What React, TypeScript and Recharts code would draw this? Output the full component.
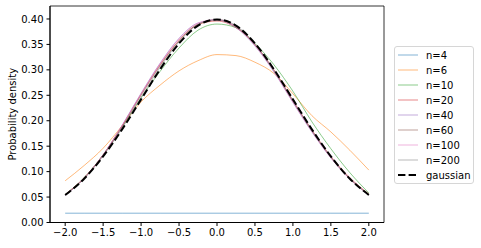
import React from 'react';
import { LineChart, Line, XAxis, YAxis, ReferenceArea } from 'recharts';

const xs = [-2, -1.75, -1.5, -1.25, -1, -0.75, -0.5, -0.25, 0, 0.25, 0.5, 0.75, 1, 1.25, 1.5, 1.75, 2];

const n4 = [0.0183, 0.0183, 0.0183, 0.0183, 0.0183, 0.0183, 0.0183, 0.0183, 0.0183, 0.0183, 0.0183, 0.0183, 0.0183, 0.0183, 0.0183, 0.0183, 0.0183];
const n6 = [0.082, 0.112, 0.146, 0.19, 0.237, 0.27, 0.298, 0.318, 0.33, 0.328, 0.315, 0.293, 0.253, 0.21, 0.178, 0.142, 0.103];
const n10 = [0.055, 0.088, 0.133, 0.188, 0.245, 0.297, 0.343, 0.378, 0.39, 0.383, 0.352, 0.31, 0.258, 0.198, 0.145, 0.098, 0.058];
const n20 = [0.055, 0.088, 0.133, 0.19, 0.252, 0.31, 0.358, 0.389, 0.396, 0.383, 0.35, 0.3, 0.24, 0.182, 0.13, 0.088, 0.056];
const n40 = [0.053, 0.087, 0.133, 0.191, 0.254, 0.313, 0.362, 0.392, 0.398, 0.383, 0.347, 0.296, 0.236, 0.178, 0.127, 0.086, 0.054];
const n60 = [0.054, 0.087, 0.132, 0.188, 0.25, 0.308, 0.357, 0.39, 0.398, 0.385, 0.349, 0.298, 0.238, 0.18, 0.128, 0.086, 0.055];
const n100 = [0.054, 0.087, 0.133, 0.19, 0.253, 0.312, 0.361, 0.392, 0.399, 0.385, 0.348, 0.297, 0.237, 0.179, 0.127, 0.085, 0.054];
const n200 = [0.054, 0.086, 0.131, 0.185, 0.246, 0.305, 0.355, 0.389, 0.399, 0.387, 0.351, 0.299, 0.24, 0.181, 0.129, 0.086, 0.054];
const gaussian = [0.054, 0.086, 0.13, 0.183, 0.242, 0.301, 0.352, 0.387, 0.399, 0.387, 0.352, 0.301, 0.242, 0.183, 0.13, 0.086, 0.054];

const xTicks = [-2, -1.5, -1, -0.5, 0, 0.5, 1, 1.5, 2];
const yTicks = [0, 0.05, 0.1, 0.15, 0.2, 0.25, 0.3, 0.35, 0.4];

const seriesNames = ['n=4', 'n=6', 'n=10', 'n=20', 'n=40', 'n=60', 'n=100', 'n=200'];
const seriesValues = [n4, n6, n10, n20, n40, n60, n100, n200];
const seriesColors = ['#1f77b4', '#ff7f0e', '#2ca02c', '#d62728', '#9467bd', '#8c564b', '#e377c2', '#7f7f7f'];

const data = xs.map((x, i) => {
  const row: Record<string, number> = { x, gaussian: gaussian[i] };
  seriesNames.forEach((n, k) => { row[n] = seriesValues[k][i]; });
  return row;
});

const FONT = 'DejaVu Sans, sans-serif';
const fmt = (v: number, d: number) => (v < 0 ? '\u2212' : '') + Math.abs(v).toFixed(d);

export default function App() {
  return (
    <div style={{ position: 'absolute', left: 0, top: 0, width: 481, height: 248, background: '#fff' }}>
      <LineChart width={481} height={248} data={data} margin={{ top: 6, right: 97, bottom: 0, left: 0 }}>
        <XAxis
          dataKey="x"
          type="number"
          domain={[-2.2, 2.2]}
          ticks={xTicks}
          tickFormatter={(v: number) => fmt(v, 1)}
          height={25.5}
          tickSize={3.5}
          tickMargin={3}
          stroke="#000"
          tick={{ fill: '#000', fontSize: 10, fontFamily: FONT }}
          allowDataOverflow
        />
        <YAxis
          type="number"
          domain={[0, 0.4255]}
          ticks={yTicks}
          tickFormatter={(v: number) => fmt(v, 2)}
          width={50}
          tickSize={3.5}
          tickMargin={3}
          stroke="#000"
          tick={{ fill: '#000', fontSize: 10, fontFamily: FONT }}
          allowDataOverflow
          label={{ value: 'Probability density', angle: -90, position: 'insideLeft', offset: 12, style: { textAnchor: 'middle', fontSize: 10, fontFamily: FONT, fill: '#000' } }}
        />
        <ReferenceArea x1={-2.2} x2={2.2} y1={0} y2={0.4255} fill="none" stroke="#000" strokeWidth={0.8} />
        {seriesNames.map((n, k) => (
          <Line key={n} type="monotone" dataKey={n} stroke={seriesColors[k]} strokeOpacity={0.55} strokeWidth={1} dot={false} isAnimationActive={false} />
        ))}
        <Line type="monotone" dataKey="gaussian" stroke="#000" strokeWidth={2} strokeDasharray="7.4 3.2" dot={false} isAnimationActive={false} />
      </LineChart>
      <div style={{ position: 'absolute', left: 394, top: 46, width: 80, height: 138, boxSizing: 'border-box', border: '1px solid #d6d6d6', borderRadius: 3, background: '#fff', fontFamily: FONT, fontSize: 10 }}>
        <svg width={80} height={138} style={{ position: 'absolute', left: -1, top: -1 }}>
          {seriesNames.map((n, k) => (
            <g key={n}>
              <line x1={4} x2={24} y1={9 + k * 15} y2={9 + k * 15} stroke={seriesColors[k]} strokeOpacity={0.55} strokeWidth={1} />
              <text x={32} y={9 + k * 15} dominantBaseline="central" fontSize={10} fontFamily={FONT} fill="#000">{n}</text>
            </g>
          ))}
          <line x1={4} x2={24} y1={129} y2={129} stroke="#000" strokeWidth={2} strokeDasharray="7.4 3.2" />
          <text x={32} y={129} dominantBaseline="central" fontSize={10} fontFamily={FONT} fill="#000">gaussian</text>
        </svg>
      </div>
    </div>
  );
}
